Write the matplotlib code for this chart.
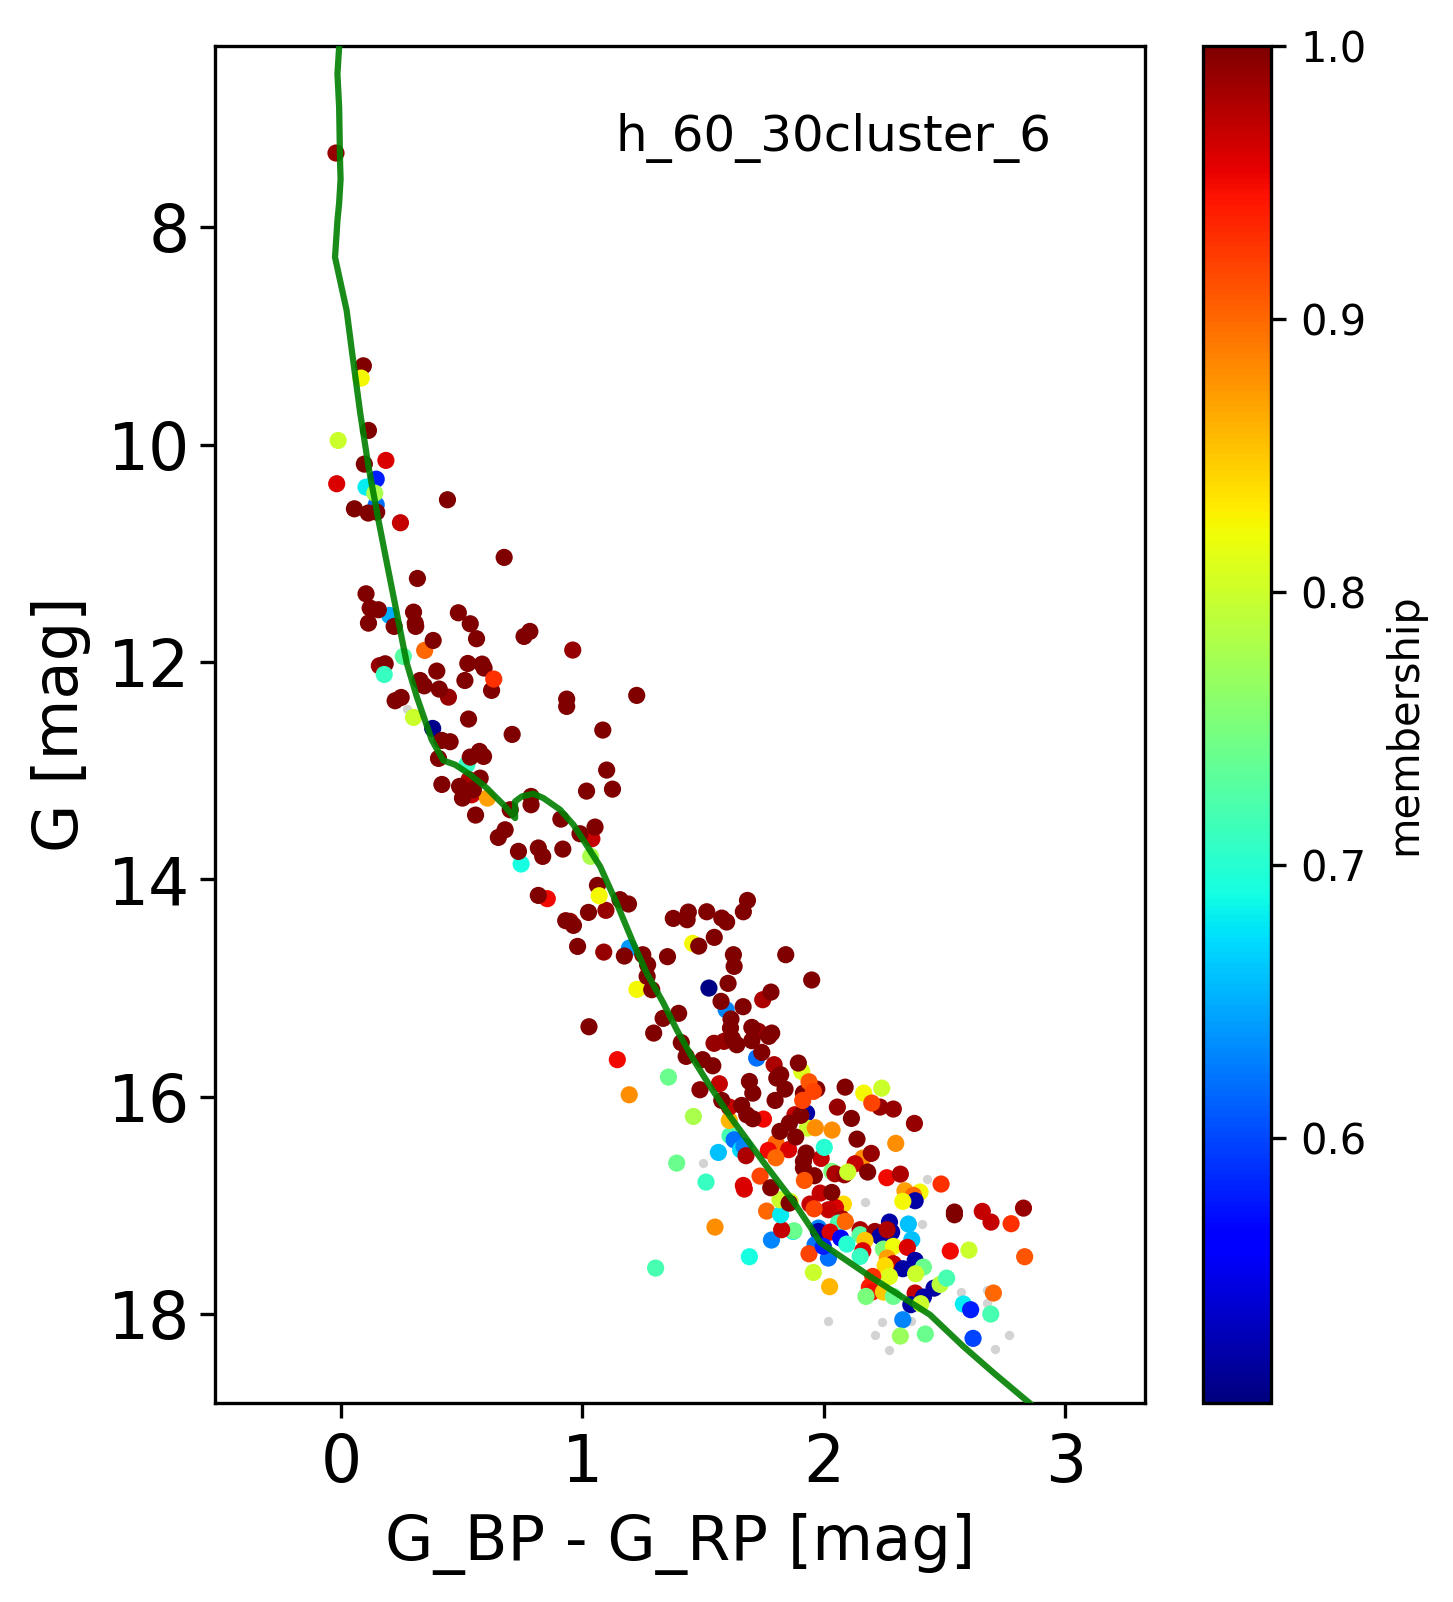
import matplotlib
matplotlib.use("Agg")
import matplotlib.pyplot as plt
import numpy as np

# isochrone
iso_x = [-0.012,-0.019,-0.012,-0.008,-0.006,-0.012,-0.019,-0.029,0.019,0.040,0.075,0.109,0.150,0.185,0.226,0.267,0.308,0.370,0.418,0.467,0.529,0.597,0.666,0.714,0.714,0.742,0.790,0.831,0.900,0.955,1.017,1.065,1.133,1.202,1.257,1.326,1.381,1.450,1.519,1.601,1.752,1.862,1.931,1.973,2.179,2.426,2.564,2.688,2.870]
iso_y = [6.339,6.584,6.889,7.41,7.55,7.77,7.93,8.266,8.755,9.115,9.696,10.185,10.675,11.072,11.531,11.990,12.295,12.693,12.883,12.922,13.014,13.136,13.289,13.411,13.259,13.213,13.188,13.228,13.335,13.473,13.687,13.855,14.191,14.558,14.833,15.108,15.353,15.628,15.873,16.149,16.607,16.928,17.158,17.305,17.617,17.968,18.259,18.500,18.84]

# low-membership field stars
field_x = [0.267,1.491,2.415,2.160,2.395,2.348,2.007,2.230,2.201,2.259,2.754,2.696,2.556,2.663,2.663]
field_y = [12.412,16.577,16.724,16.935,17.133,18.029,18.023,18.035,18.152,18.289,18.152,18.280,17.757,17.745,17.861]

# members with membership below 1
member_x = [0.181,-0.022,0.141,0.099,0.141,0.241,0.196,0.253,0.154,0.341,0.439,0.374,0.515,0.524,0.535,0.600,-0.016,-0.025,
0.739,1.026,0.847,1.186,1.080,0.941,1.089,1.514,1.736,1.585,1.535,1.576,1.718,1.136,1.711,1.783,1.447,1.217,1.185,1.031,0.952,
1.347,1.450,1.381,1.294,1.553,1.502,1.539,1.681,1.772,1.862,1.865,1.814,1.752,1.656,1.660,1.725,1.810,1.601,1.618,1.645,1.659,1.667,1.598,1.598,1.477,1.557,1.739,
1.897,2.153,2.227,2.220,2.275,2.044,2.362,1.869,1.917,1.920,1.953,2.022,2.285,1.791,1.759,1.843,1.790,1.977,1.990,2.149,2.184,2.117,2.021,2.034,2.073,2.248,2.304,2.472,2.323,2.385,2.358,2.365,2.314,
1.973,2.069,2.036,2.007,1.931,1.948,1.807,1.849,2.062,2.048,1.966,1.966,2.014,2.058,2.083,1.952,1.927,2.007,1.986,2.138,2.138,2.199,2.220,2.259,2.268,2.249,2.337,2.351,2.158,2.234,2.275,2.333,2.149,2.138,2.250,2.275,2.241,2.314,2.365,2.399,2.367,2.259,1.945,2.012,2.190,2.176,2.186,2.162,2.234,2.275,2.365,2.399,2.443,2.468,2.495,2.347,2.388,2.314,2.564,2.594,2.677,2.304,2.407,2.604,2.688,2.510,2.587,2.817,2.642,2.678,2.761,2.812]
member_y = [10.130,10.344,10.302,10.375,10.537,10.702,11.552,11.928,12.014,11.873,12.302,12.589,12.922,13.060,13.198,13.228,9.947,7.310,
13.833,13.763,14.151,14.604,14.641,14.359,14.258,14.971,15.078,15.170,15.478,15.460,15.368,15.628,15.613,15.674,14.561,14.983,15.950,13.601,11.870,
15.788,16.149,16.577,17.540,16.479,16.751,17.164,17.436,17.283,17.204,17.198,17.188,17.017,16.782,16.815,16.696,17.051,16.326,16.363,16.454,16.424,16.509,16.185,16.063,15.904,15.849,16.173,
15.736,15.935,15.889,16.063,16.081,16.063,16.213,16.133,16.118,16.256,16.253,16.274,16.396,16.393,16.461,16.454,16.528,16.534,16.433,16.531,16.488,16.583,16.653,16.675,16.684,16.711,16.678,16.769,16.831,16.843,16.873,16.922,16.928,
16.852,16.953,16.984,17.005,16.953,16.996,16.913,16.928,17.087,17.127,17.173,17.204,17.210,17.265,17.320,17.326,17.409,17.448,17.341,17.188,17.234,17.204,17.250,17.118,17.210,17.188,17.136,17.280,17.286,17.366,17.341,17.350,17.381,17.433,17.448,17.500,17.519,17.546,17.470,17.531,17.592,17.617,17.580,17.711,17.617,17.714,17.760,17.800,17.760,17.800,17.769,17.806,17.724,17.690,17.632,17.876,17.867,18.014,17.870,17.922,17.962,18.164,18.145,18.185,17.769,17.384,17.375,17.436,17.020,17.118,17.133,16.990]
member_m = [0.96,0.96,0.58,0.68,0.62,0.97,0.65,0.73,0.99,0.90,0.99,0.51,0.71,0.98,0.97,0.87,0.80,0.99,
0.69,0.78,0.95,0.64,0.99,0.99,0.99,0.505,0.98,0.63,0.99,0.99,0.99,0.95,0.62,0.98,0.825,0.825,0.88,0.97,0.99,
0.74,0.78,0.74,0.72,0.66,0.71,0.88,0.69,0.63,0.68,0.74,0.97,0.90,0.96,0.96,0.92,0.68,0.72,0.62,0.67,0.63,0.98,0.86,0.97,0.995,0.97,0.95,
0.81,0.825,0.80,0.99,0.99,0.99,0.99,0.97,0.52,0.80,0.88,0.88,0.88,0.90,0.95,0.96,0.90,0.97,0.70,0.88,0.99,0.97,0.75,0.98,0.99,0.95,0.98,0.93,0.87,0.825,0.90,0.52,0.825,
0.97,0.84,0.96,0.97,0.97,0.92,0.80,0.80,0.98,0.72,0.63,0.52,0.96,0.56,0.70,0.62,0.92,0.62,0.58,0.98,0.73,0.99,0.52,0.52,0.52,0.98,0.66,0.66,0.85,0.75,0.82,0.96,0.96,0.71,0.87,0.97,0.84,0.52,0.52,0.74,0.80,0.81,0.80,0.86,0.93,0.94,0.95,0.75,0.85,0.74,0.97,0.52,0.52,0.79,0.72,0.52,0.80,0.63,0.68,0.58,0.72,0.77,0.74,0.60,0.90,0.95,0.80,0.91,0.97,0.97,0.93,0.99]

# members with membership of 1
core_x = [0.088,0.109,0.092,0.051,0.108,0.143,0.435,0.669,0.311,0.099,0.116,0.150,0.109,0.215,0.295,0.302,0.304,0.480,0.529,0.555,0.751,0.775,0.376,0.178,0.391,0.519,0.578,0.586,0.507,0.617,0.322,0.339,0.401,0.219,0.244,0.522,0.927,0.927,1.216,0.702,1.076,0.412,0.446,0.398,0.529,0.567,0.584,1.092,1.116,1.009,0.412,0.570,0.485,0.542,0.497,0.694,0.780,0.780,0.551,0.903,1.044,0.982,0.673,0.645,
0.728,0.810,0.828,0.911,1.054,0.810,1.147,1.182,1.017,0.923,0.955,0.972,1.165,1.241,1.261,1.343,1.259,1.278,1.472,1.536,1.367,1.429,1.424,1.505,1.567,1.587,1.656,1.673,1.615,1.618,1.831,1.938,1.593,1.770,1.564,1.655,1.605,1.603,1.389,1.325,1.286,1.019,1.400,1.691,1.773,1.761,1.611,1.629,1.691,1.732,1.420,1.488,1.883,
1.567,1.530,1.649,1.681,1.695,1.670,1.695,1.794,1.810,1.828,1.787,1.904,1.959,2.076,1.893,1.846,1.807,1.872,2.102,2.125,1.915,1.904,1.904,2.169,1.949,2.021,1.769,1.845,2.527,2.527]
core_y = [9.262,9.855,10.164,10.574,10.613,10.604,10.491,11.020,11.213,11.354,11.485,11.500,11.623,11.653,11.522,11.623,11.653,11.528,11.629,11.766,11.745,11.699,11.782,11.996,12.063,11.993,11.999,12.035,12.149,12.240,12.149,12.198,12.228,12.335,12.305,12.503,12.320,12.387,12.286,12.644,12.604,12.699,12.711,12.864,12.852,12.800,12.846,12.971,13.146,13.164,13.103,13.045,13.121,13.152,13.228,13.335,13.213,13.289,13.384,13.421,13.494,13.555,13.519,13.589,
13.717,13.686,13.763,13.696,14.029,14.121,14.160,14.200,14.277,14.353,14.396,14.589,14.677,14.665,14.757,14.683,14.864,14.986,14.586,14.506,14.332,14.274,14.344,14.271,14.329,14.365,14.271,14.167,14.665,14.772,14.665,14.897,14.928,15.008,15.093,15.142,15.255,15.338,15.203,15.249,15.384,15.326,15.472,15.332,15.384,15.414,15.436,15.491,15.454,15.561,15.598,15.628,15.659,
16.002,15.684,16.048,15.828,15.935,16.133,16.170,15.797,15.766,15.898,16.002,15.935,15.898,15.880,16.139,16.210,16.286,16.338,16.167,16.357,16.485,16.561,16.623,16.659,16.693,16.846,16.803,16.944,17.026,17.051]

# members that sit on top of the rest
top_x = [0.079,0.135,0.174,0.626,0.295,1.061,1.927,1.901,2.186,1.945,2.087,1.908,2.077]
top_y = [9.375,10.430,12.094,12.136,12.488,14.124,15.831,16.002,16.026,15.919,16.659,16.736,17.112]
top_m = [0.825,0.78,0.71,0.93,0.80,0.825,0.91,0.92,0.92,0.92,0.80,0.91,0.90]

xticks = [0, 1, 2, 3]
yticks = [8, 10, 12, 14, 16, 18]
cbar_ticks = [0.6, 0.7, 0.8, 0.9, 1.0]
VMIN, VMAX = 0.503, 1.0
# the values above were read with a slightly long ruler; these settle them on the axes
READ_X = (0.00414, 1.00373)
READ_Y = (8.0074, 1.00322)


def settle_x(v):
    return READ_X[0] + READ_X[1]*np.asarray(v, dtype=float)


def settle_y(v):
    return READ_Y[0] + READ_Y[1]*(np.asarray(v, dtype=float) - 8.0)


W, H = 1453, 1602
fig = plt.figure(figsize=(W/300, H/300), dpi=300)
ax = fig.add_axes([215.5/W, 1-1403/H, (1145-215.5)/W, (1403-46)/H])
cax = fig.add_axes([1203/W, 1-1403/H, (1271-1203)/W, (1403-46)/H])

ax.scatter(settle_x(field_x), settle_y(field_y), s=5, c='lightgray', linewidths=0, zorder=1)
xs = list(member_x) + list(core_x) + list(top_x)
ys = list(member_y) + list(core_y) + list(top_y)
ms = list(member_m) + [1.0]*len(core_x) + list(top_m)
sc = ax.scatter(settle_x(xs), settle_y(ys), s=17, c=ms, cmap='jet', vmin=VMIN, vmax=VMAX, linewidths=0, zorder=2)
ax.plot(settle_x(iso_x), settle_y(iso_y), color='green', alpha=0.9, lw=1.5, zorder=3)

ax.set_xlim(-0.52, 3.33)
ax.set_ylim(18.82, 6.33)
ax.set_xticks(xticks)
ax.set_yticks(yticks)
ax.tick_params(labelsize=15.5)
ax.tick_params(axis='y', pad=2.6)
ax.set_xlabel('G_BP - G_RP [mag]', fontsize=15)
ax.set_ylabel('G [mag]', fontsize=15)
ax.text(0.665, 0.9325, 'h_60_30cluster_6', transform=ax.transAxes, fontsize=12,
        ha='center', va='center')

cb = fig.colorbar(sc, cax=cax)
cb.set_ticks(cbar_ticks)
cb.ax.tick_params(labelsize=10)
cb.set_label('membership', fontsize=10)

fig.savefig('out.png', dpi=300)
